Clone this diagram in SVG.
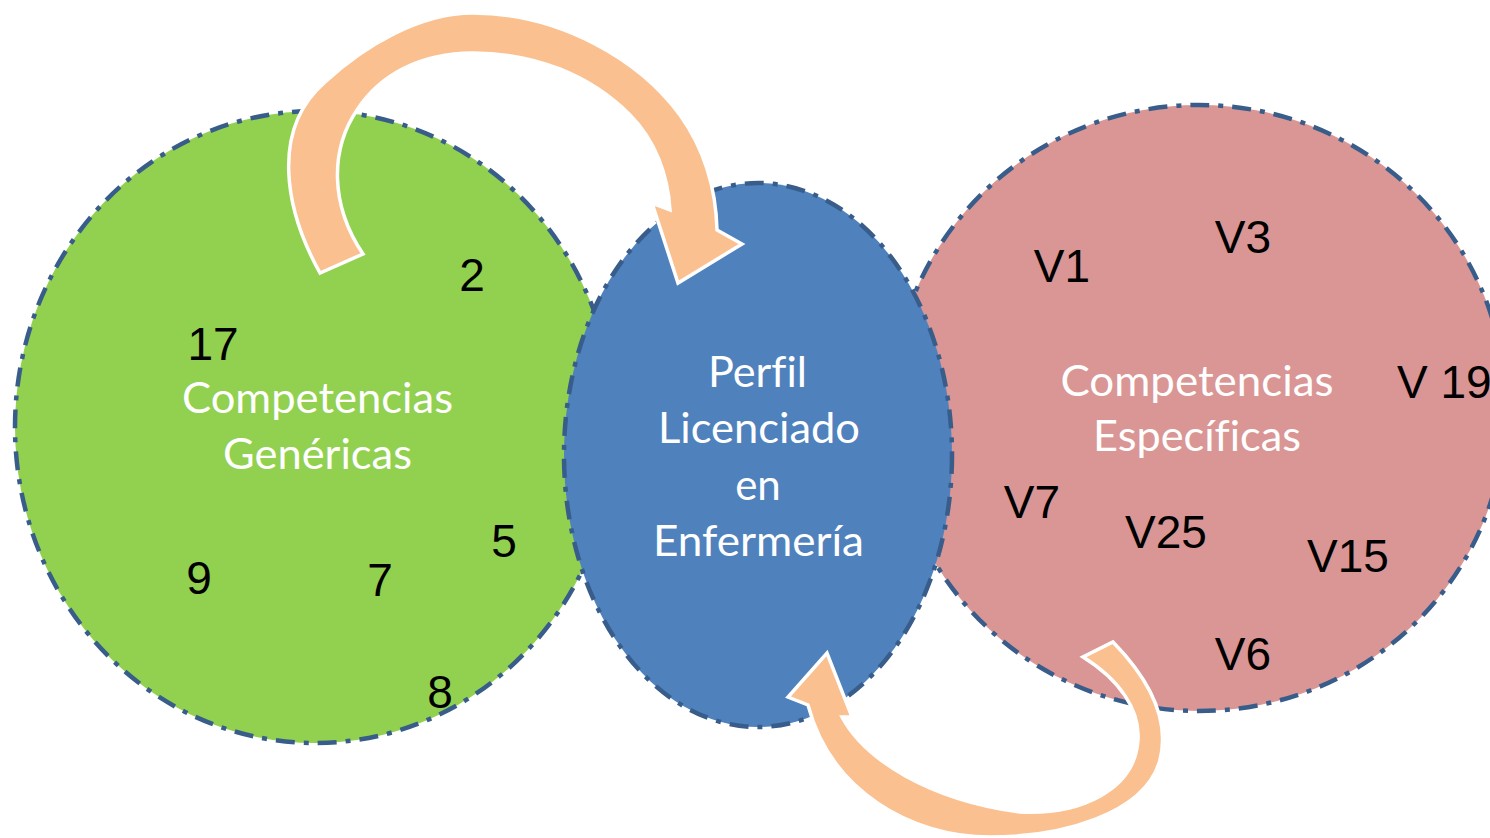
<svg xmlns="http://www.w3.org/2000/svg" width="1490" height="838" viewBox="0 0 1490 838">
<style>
.circ{stroke:#385D8A;stroke-width:4.5;stroke-dasharray:19 9 5 9}
.arrow{fill:#FAC090;stroke:#FFFFFF;stroke-width:3.5;stroke-linejoin:miter}
.num{font-family:"Liberation Sans",Arial,sans-serif;font-size:46px;fill:#000000;text-anchor:middle}
.lab{font-family:Lato,"Open Sans",sans-serif;font-size:42px;fill:#FFFFFF;text-anchor:middle;font-variant-ligatures:none;font-feature-settings:"liga" 0}
</style>
<rect width="1490" height="838" fill="#FFFFFF"/>
<g id="genericas">
<ellipse class="circ" cx="315" cy="427" rx="300" ry="316" fill="#92D050"/>
<text class="lab" x="317.5" y="413" textLength="271" lengthAdjust="spacingAndGlyphs">Competencias</text>
<text class="lab" x="317.5" y="469" textLength="189" lengthAdjust="spacingAndGlyphs">Genéricas</text>
<text class="num" x="472" y="291">2</text>
<text class="num" x="213" y="360">17</text>
<text class="num" x="199" y="594">9</text>
<text class="num" x="380" y="596">7</text>
<text class="num" x="504" y="557">5</text>
<text class="num" x="440" y="708">8</text>
</g>
<g id="especificas">
<ellipse class="circ" cx="1199" cy="408" rx="307" ry="303" fill="#D99694"/>
<text class="lab" x="1197" y="396" textLength="273" lengthAdjust="spacingAndGlyphs">Competencias</text>
<text class="lab" x="1197" y="451" textLength="208" lengthAdjust="spacingAndGlyphs">Específicas</text>
<text class="num" x="1062" y="282">V1</text>
<text class="num" x="1243" y="253">V3</text>
<text class="num" x="1397" y="398" style="text-anchor:start">V 19</text>
<text class="num" x="1032" y="518">V7</text>
<text class="num" x="1166" y="548">V25</text>
<text class="num" x="1348" y="572">V15</text>
<text class="num" x="1243" y="670">V6</text>
</g>
<g id="perfil">
<ellipse class="circ" cx="758" cy="455" rx="194" ry="272" fill="#4F81BD"/>
<text class="lab" x="757.5" y="387" textLength="99" lengthAdjust="spacingAndGlyphs">Perfil</text>
<text class="lab" x="759" y="443" textLength="202" lengthAdjust="spacingAndGlyphs">Licenciado</text>
<text class="lab" x="758" y="500">en</text>
<text class="lab" x="758.5" y="556" textLength="211" lengthAdjust="spacingAndGlyphs">Enfermería</text>
</g>
<g id="connectors">
<path class="arrow" d="M320,273 C285,210 270,130 325,82 C365,45 420,13 473,13 C560,13 640,60 680,115 C705,150 716,190 717,230 L742,244 L678,283 L652,203 L670,210 C668,175 655,140 630,115 C590,75 535,53 473,53 C420,53 380,75 357,110 C330,150 330,205 363,254 Z"/>
<path class="arrow" d="M1113,642 C1150,680 1170,720 1160,760 C1145,815 1060,837 990,837 C910,837 830,790 808,705 L788,697 L827,653 L852,717 L842,717 C865,760 930,800 1020,812 C1080,815 1135,790 1138,740 C1140,710 1120,680 1083,657 Z"/>
</g>
</svg>
